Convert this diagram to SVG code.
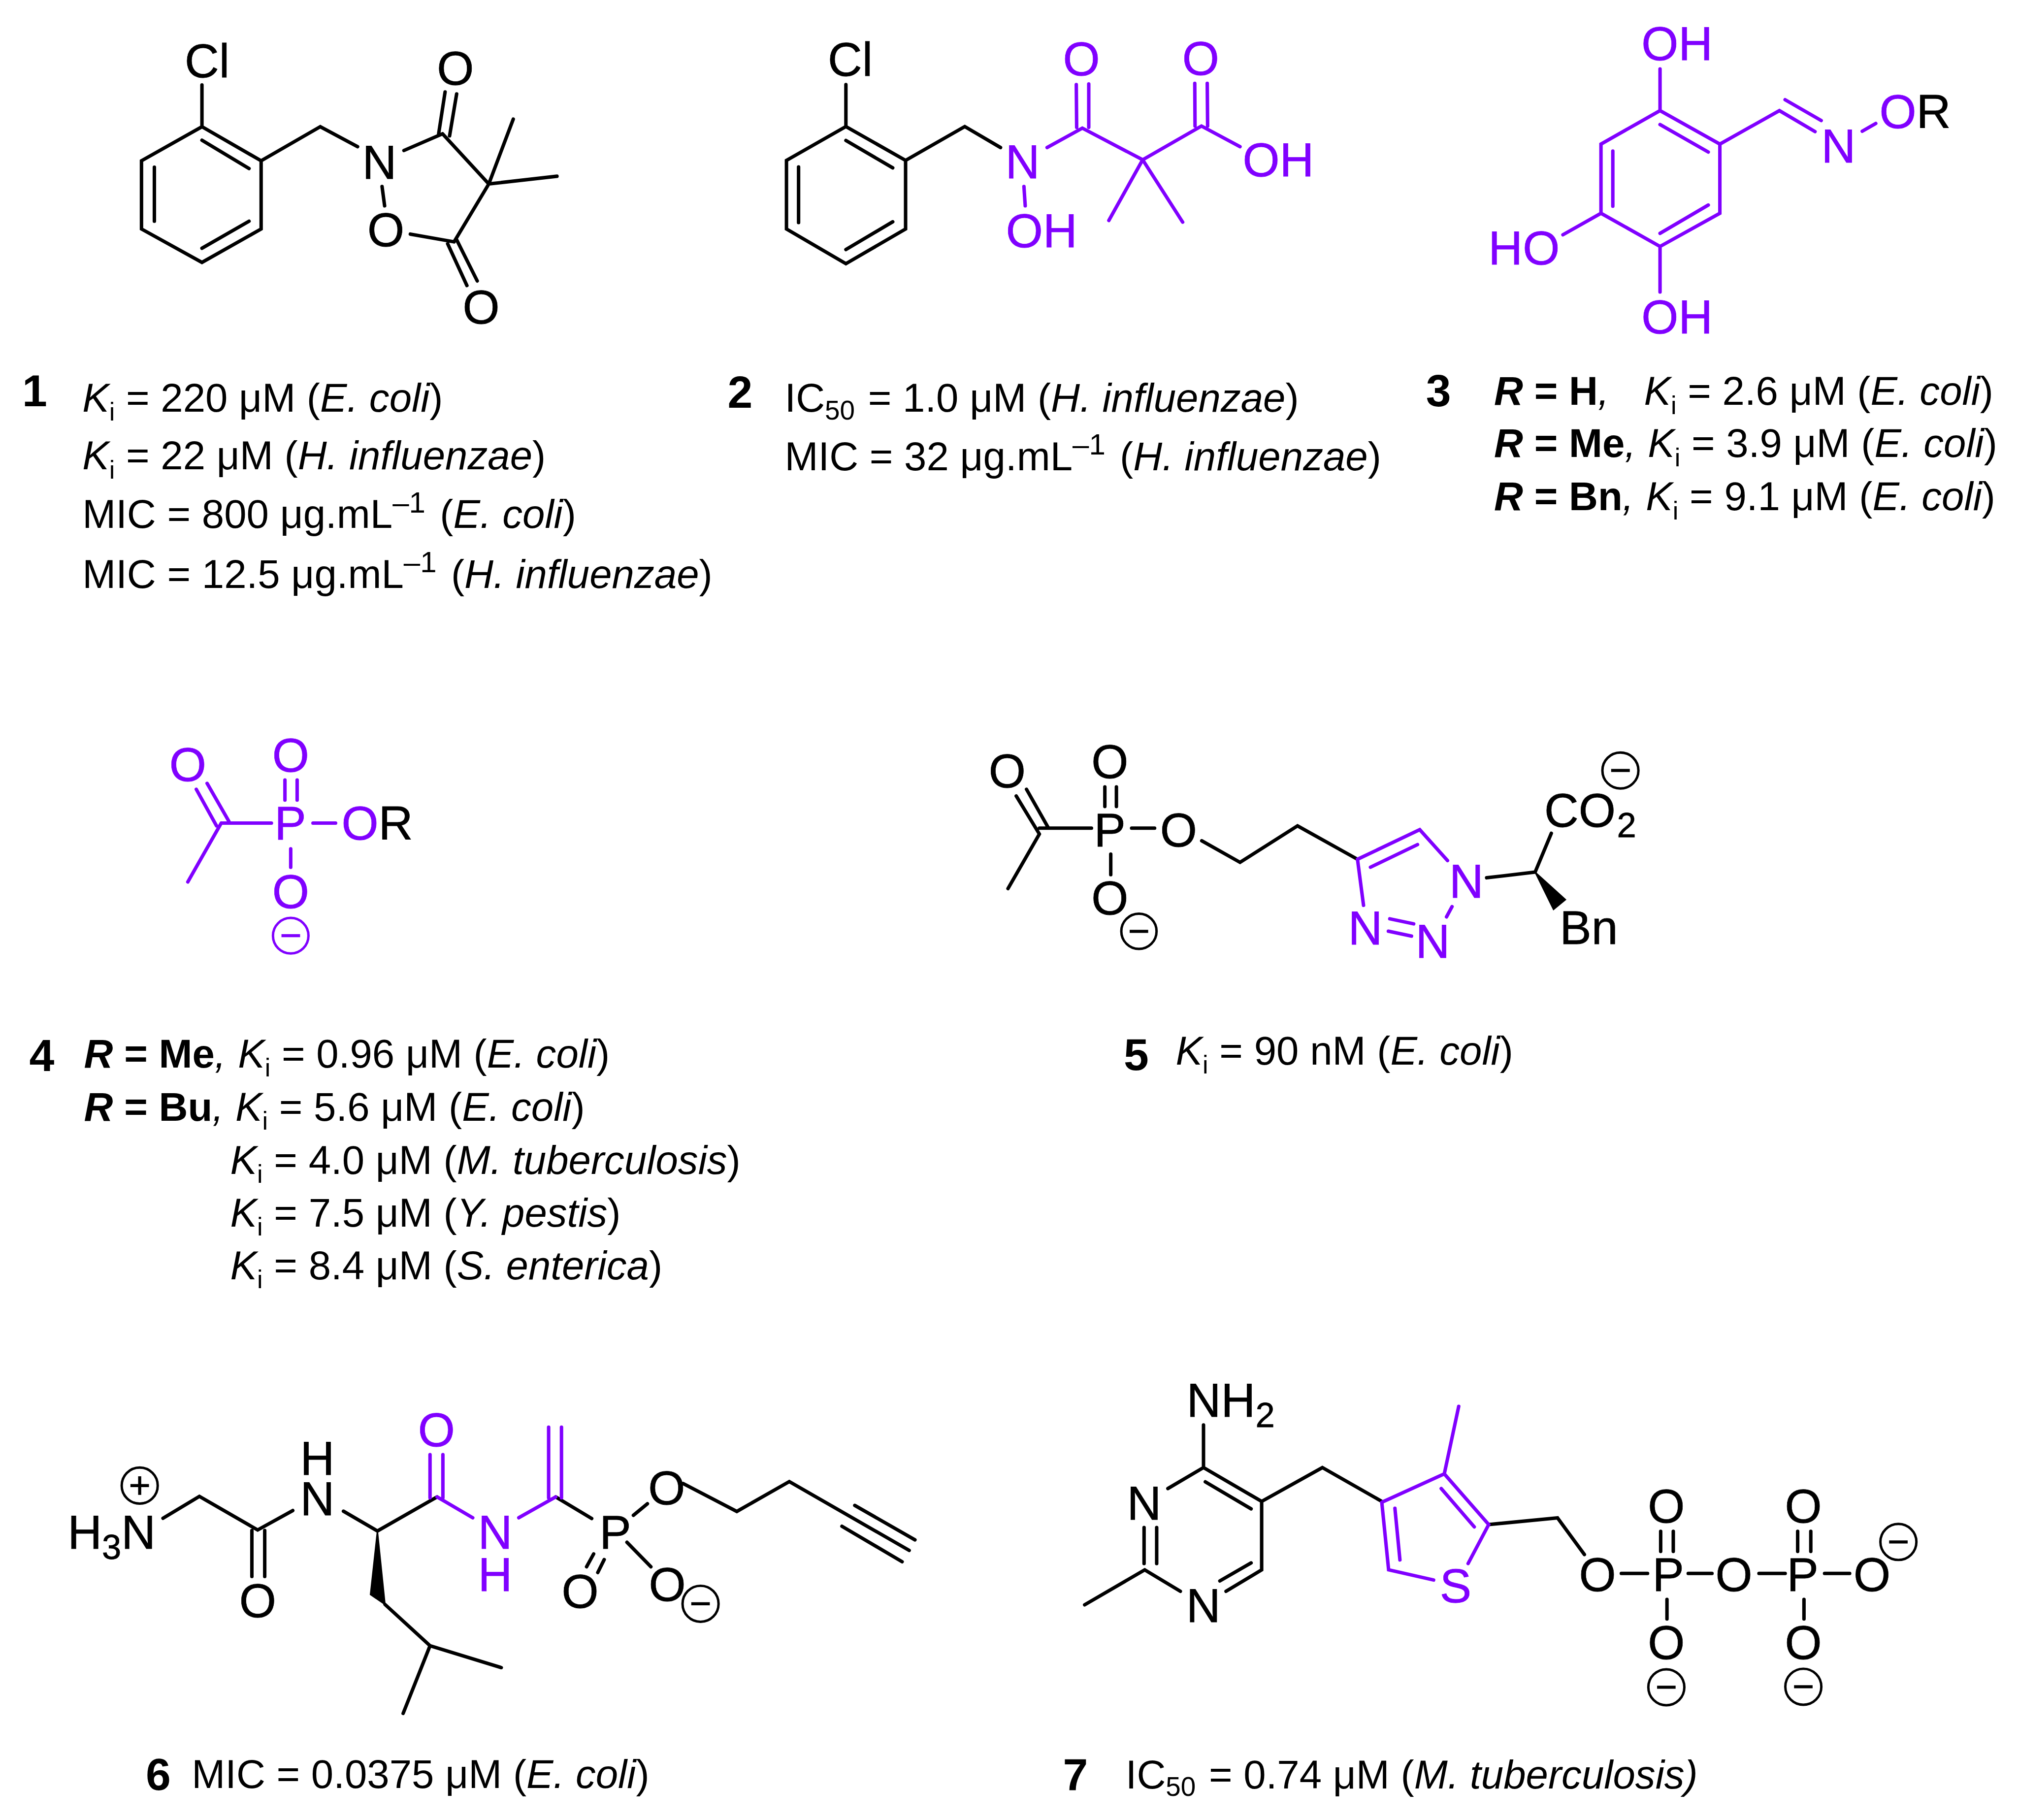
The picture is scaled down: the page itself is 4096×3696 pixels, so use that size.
<svg xmlns="http://www.w3.org/2000/svg" width="4096" height="3696" viewBox="0 0 4096 3696">
<style>
text{font-family:"Liberation Sans",Arial,sans-serif;fill:#000}
.a{font-size:37px;text-anchor:middle;stroke:#000;stroke-width:.3}
.as{font-size:37px;stroke:#000;stroke-width:.3}
.a.pt,.as.pt{fill:#8000ff;stroke:#8000ff}
.as.pt tspan.bk{fill:#000;stroke:#000}
.t{font-size:31.25px}
.n{font-size:35px;font-weight:bold;text-anchor:middle}
.i{font-style:italic}
.b{font-weight:bold}
.bi{font-weight:bold;font-style:italic}
.s{font-size:20px}
.e{font-size:23px}
.s2{font-size:21px}
.u{font-size:27px}
.kb{fill:none;stroke:#000;stroke-width:2.7;stroke-linecap:round;stroke-linejoin:miter}
.pb{fill:none;stroke:#8000ff;stroke-width:2.7;stroke-linecap:round;stroke-linejoin:miter}
.c{fill:none;stroke:#000;stroke-width:1.9}
.cp{fill:none;stroke:#8000ff;stroke-width:1.9}
.m{fill:none;stroke:#000;stroke-width:2.4}
.mp{fill:none;stroke:#8000ff;stroke-width:2.4}
</style>
<rect width="4096" height="3696" fill="#fff"/>
<g transform="scale(2.61224)">
<g id="connectors">
<path id="bonds-1" class="kb" d="M157 66V98.5L203 125V178L157 204L110 178V125L157 98.5M157 109L193.6 131M120 130V172M157 193L193.6 172M203 125L249 98.5L278 114M314 117L344 104M341 104L346 71.5M349.5 105.6L355 73M344 104L380 143M380 143L399 92.6M380 143L433 137M380 143L353 188M348 189.5L363 222M355 186.4L371 218.4M353 188L319 182M297 145L299 160"/>
<path id="bonds-2k" class="kb" d="M657.6 65.8V98.4L704 124.7V178L657.6 205L611.4 178V124.7L657.6 98.4M657.6 109.2L694 130.5M620.8 129.8V173M657.6 194L694 172.4M704 124.7L750 98.4L777.8 114.7"/>
<path id="bonds-2p" class="pb" d="M814 114.7L841.4 99.6L888.3 124.2L934 98L964 114M837 99L836.7 65.8M846.4 99V65.3M929 98L928.8 64.8M938.8 98L938.5 64.8M888.3 124.2L862 171.4M888.3 124.2L919.4 172.7M796 145L797 160"/>
<path id="bonds-3" class="pb" d="M1290.5 53.6V86L1337 112V165.8L1290.5 191.6L1244.6 165.8V112L1290.5 86M1290.5 96.8L1328 118.2M1253.8 117.4V160.3M1290.5 181.4L1328 159.4M1290.5 191.6V227M1244.6 165.8L1215 182.5M1337 112L1383.3 86L1411 102.3M1387.7 77.5L1415.8 93.7M1447.7 102L1458.2 96"/>
<path id="bonds-4" class="pb" d="M172 639.9H211M172 639.9L146 685.6M168.3 642L152.6 613.6M177.9 638.4L161 609M221.5 622V606.4M231 622V606.4M243.3 639.9H260.9M226 659.9V674.2"/>
<path id="bonds-5k" class="kb" d="M808 643.8H848.5M808 648.4L783.6 690.8M790 618.8L808 648.4M798 613.6L815 643.6M858.9 627V611.7M867.9 627V611.7M879.7 643.8H897.6M863.5 664V680M934.2 653.6L964 670.4L1008.7 642L1055.3 668M1155.7 682.4L1193.4 678L1206 647.8"/>
<path id="wedge-5" d="M1193.4 678L1217 699.4L1207.7 707Z" fill="#000" stroke="#000" stroke-width="1"/>
<path id="bonds-5p" class="pb" d="M1055.3 668L1103.7 645L1125.3 669M1065.4 674.2L1102 656.6M1055.3 668L1060 703.8M1080.4 714.3L1099 718.2M1079.3 723.9L1097.3 727.7M1128.8 704.8L1124.5 712.8"/>
<path id="bonds-6k" class="kb" d="M126.7 1180.3L155 1163.3L200.3 1189.4L227.6 1174.3M195.8 1189.8V1225.6M205.8 1189.8V1225.6M267 1174.8L293.4 1190.2L339.8 1163.7M299.3 1247.3L334.3 1279.4L389.7 1296.4M334.3 1279.4L313.4 1332M432 1163.7L460 1180.5M461.5 1208L456 1218M469.7 1212.4L464.7 1222.5M487.4 1199L506 1218M492.4 1178L503.3 1169M531 1153.3L572.8 1175L613.6 1151.8L706.8 1205.3M664.5 1170.3L711.3 1197.1M654.5 1186.5L701.3 1214.1"/>
<path id="wedge-6" d="M293.4 1190.2L288 1239.6L299.3 1247.3Z" fill="#000" stroke="#000" stroke-width="1"/>
<path id="bonds-6p" class="pb" d="M334.3 1164.4V1130.8M344.3 1164.4V1130.8M339.8 1163.7L367.5 1179.9M403.3 1179.9L432 1163.7M426.5 1164.4V1109.5M436.5 1164.4V1109.5"/>
<path id="bonds-7k" class="kb" d="M935.6 1107.8V1140.9L980.8 1167.2V1220.4L953.1 1237.1M917.6 1237.1L889.9 1220.4M889.4 1215.5V1187.5M899.2 1215.5V1187.5M907.9 1157.2L935.6 1140.9M937 1152L972.6 1173M948.3 1229L972.6 1215M889.9 1220.4L843.2 1247.6M980.8 1167.2L1028 1140.9L1074.2 1167.2M1157.3 1185.2L1210.8 1180L1231.7 1208.5M1260.4 1223.2H1280.8M1312.4 1223.2H1330.9M1367.4 1223.2H1387.8M1418.4 1223.2H1437.9M1291 1206.1V1190.5M1300.8 1206.1V1190.5M1397.5 1206.1V1190.5M1407.7 1206.1V1190.5M1295.9 1243.4V1258.6M1402.4 1243.4V1258.6"/>
<path id="bonds-7p" class="pb" d="M1074.2 1167.9L1122.8 1145.8L1157.3 1185.2L1141.3 1215.5M1114.5 1228.3L1079.5 1220.4L1074.2 1167.9M1120.4 1157.2L1146.1 1187M1084.4 1172.6L1088.3 1212.7M1122.8 1145.8L1134 1093.3"/>
</g>
<g id="compound-1">
<text class="a" x="161" y="60">Cl</text><text class="a" x="295" y="139">N</text><text class="a" x="354" y="66">O</text><text class="a" x="374" y="251.5">O</text><text class="a" x="300" y="191.5">O</text>
<text class="n" x="27" y="316">1</text>
<text class="t" x="64" y="320"><tspan class="i">K</tspan><tspan class="s" dy="7">i</tspan><tspan dy="-7"> = 220 μM (</tspan><tspan class="i">E. coli</tspan>)</text>
<text class="t" x="64" y="365"><tspan class="i">K</tspan><tspan class="s" dy="7">i</tspan><tspan dy="-7"> = 22 μM (</tspan><tspan class="i">H. influenzae</tspan>)</text>
<text class="t" x="64" y="410.5">MIC = 800 μg.mL<tspan class="e" dy="-12">–1</tspan><tspan dy="12" dx="2.5"> (</tspan><tspan class="i">E. coli</tspan>)</text>
<text class="t" x="64" y="457">MIC = 12.5 μg.mL<tspan class="e" dy="-12">–1</tspan><tspan dy="12" dx="2.5"> (</tspan><tspan class="i">H. influenzae</tspan>)</text>
</g>
<g id="compound-2">
<text class="a" x="661" y="59">Cl</text><text class="a pt" x="795" y="138.5">N</text><text class="a pt" x="840.7" y="58.5">O</text><text class="a pt" x="933.4" y="58">O</text>
<text class="as pt" x="966" y="137">OH</text><text class="as pt" x="782" y="192">OH</text>
<text class="n" x="575.3" y="317">2</text>
<text class="t" x="610" y="320">IC<tspan class="s2" dy="6">50</tspan><tspan dy="-6" dx="1.5"> = 1.0 μM (</tspan><tspan class="i">H. influenzae</tspan>)</text>
<text class="t" x="610" y="365.5">MIC = 32 μg.mL<tspan class="e" dy="-12">–1</tspan><tspan dy="12" dx="2.5"> (</tspan><tspan class="i">H. influenzae</tspan>)</text>
</g>
<g id="compound-3">
<text class="as pt" x="1276" y="46.7">OH</text><text class="as pt" x="1276" y="259">OH</text><text class="as pt" x="1157" y="205.6">HO</text>
<text class="a pt" x="1429.2" y="126.5">N</text><text class="as pt" x="1461" y="99.5">O<tspan class="bk">R</tspan></text>
<text class="n" x="1118.3" y="316">3</text>
<text class="t" x="1161.5" y="314.8"><tspan class="bi">R</tspan><tspan class="b"> = H</tspan><tspan class="i">,</tspan><tspan class="i" x="1278">K</tspan><tspan class="s" dy="7">i</tspan><tspan dy="-7"> = 2.6 μM (</tspan><tspan class="i">E. coli</tspan>)</text>
<text class="t" x="1161.5" y="355.4"><tspan class="bi">R</tspan><tspan class="b"> = Me</tspan><tspan class="i">,</tspan><tspan class="i" x="1281">K</tspan><tspan class="s" dy="7">i</tspan><tspan dy="-7"> = 3.9 μM (</tspan><tspan class="i">E. coli</tspan>)</text>
<text class="t" x="1161.5" y="396.7"><tspan class="bi">R</tspan><tspan class="b"> = Bn</tspan><tspan class="i">,</tspan><tspan class="i" x="1279.5">K</tspan><tspan class="s" dy="7">i</tspan><tspan dy="-7"> = 9.1 μM (</tspan><tspan class="i">E. coli</tspan>)</text>
</g>
<g id="compound-4">
<text class="a pt" x="146" y="607.3">O</text><text class="a pt" x="226" y="600">O</text><text class="a pt" x="225.7" y="652.8">P</text><text class="as pt" x="265.5" y="652.8">O<tspan class="bk">R</tspan></text><text class="a pt" x="226" y="706">O</text>
<circle class="cp" cx="226" cy="727.4" r="13.8"/><path class="mp" d="M218.8 727.4H233.3"/>
<text class="n" x="32.5" y="832.5">4</text>
<text class="t" x="65.3" y="830"><tspan class="bi">R</tspan><tspan class="b"> = Me</tspan><tspan class="i">,</tspan><tspan class="i" x="185">K</tspan><tspan class="s" dy="7">i</tspan><tspan dy="-7"> = 0.96 μM (</tspan><tspan class="i">E. coli</tspan>)</text>
<text class="t" x="65.3" y="871.3"><tspan class="bi">R</tspan><tspan class="b"> = Bu</tspan><tspan class="i">,</tspan><tspan class="i" x="183">K</tspan><tspan class="s" dy="7">i</tspan><tspan dy="-7"> = 5.6 μM (</tspan><tspan class="i">E. coli</tspan>)</text>
<text class="t" x="179" y="912.5"><tspan class="i">K</tspan><tspan class="s" dy="7">i</tspan><tspan dy="-7"> = 4.0 μM (</tspan><tspan class="i">M. tuberculosis</tspan>)</text>
<text class="t" x="179" y="953.5"><tspan class="i">K</tspan><tspan class="s" dy="7">i</tspan><tspan dy="-7"> = 7.5 μM (</tspan><tspan class="i">Y. pestis</tspan>)</text>
<text class="t" x="179" y="994.5"><tspan class="i">K</tspan><tspan class="s" dy="7">i</tspan><tspan dy="-7"> = 8.4 μM (</tspan><tspan class="i">S. enterica</tspan>)</text>
</g>
<g id="compound-5">
<text class="a" x="783" y="612">O</text><text class="a" x="862.8" y="605">O</text><text class="a" x="862.8" y="658">P</text><text class="a" x="916.2" y="658">O</text><text class="a" x="862.8" y="711">O</text>
<circle class="c" cx="885.4" cy="724" r="13.7"/><path class="m" d="M878.2 724H892.6"/>
<text class="a pt" x="1140" y="697.7">N</text><text class="a pt" x="1061.4" y="734.4">N</text><text class="a pt" x="1113.8" y="744.6">N</text>
<text class="as" x="1200.5" y="642.7">CO<tspan class="u" dy="8" dx="1">2</tspan></text>
<circle class="c" cx="1259.7" cy="599" r="14"/><path class="m" d="M1252.5 599H1267"/>
<text class="as" x="1212.5" y="733.9">Bn</text>
<text class="n" x="883.3" y="832">5</text>
<text class="t" x="914" y="827.5"><tspan class="i">K</tspan><tspan class="s" dy="7">i</tspan><tspan dy="-7"> = 90 nM (</tspan><tspan class="i">E. coli</tspan>)</text>
</g>
<g id="compound-6">
<text class="as" x="52.5" y="1203.9">H<tspan class="u" dy="8">3</tspan><tspan dy="-8">N</tspan></text>
<circle class="c" cx="108.6" cy="1154.9" r="14"/><path class="m" d="M101.4 1154.9H115.8M108.6 1147.7V1162.1"/>
<text class="a" x="200.3" y="1257">O</text><text class="a" x="246.7" y="1146.4">H<tspan x="246.7" y="1177.8">N</tspan></text>
<text class="a pt" x="339.3" y="1124.3">O</text><text class="a pt" x="385" y="1203.9">N<tspan x="385" y="1237">H</tspan></text>
<text class="a" x="478.3" y="1204">P</text><text class="a" x="451" y="1250">O</text><text class="a" x="518.7" y="1244.4">O</text><text class="a" x="518.3" y="1169.6">O</text>
<circle class="c" cx="544.6" cy="1246.8" r="14"/><path class="m" d="M537.4 1246.8H551.8"/>
<text class="n" x="123" y="1391.4">6</text>
<text class="t" x="149" y="1390">MIC = 0.0375 μM (<tspan class="i">E. coli</tspan>)</text>
</g>
<g id="compound-7">
<text class="as" x="922.5" y="1101.5">NH<tspan class="u" dy="8">2</tspan></text>
<text class="a" x="889.4" y="1181.4">N</text><text class="a" x="935.6" y="1261.1">N</text><text class="a pt" x="1131.6" y="1245.5">S</text>
<text class="a" x="1241.9" y="1236.9">O</text><text class="a" x="1296.9" y="1236.9">P</text><text class="a" x="1347.9" y="1236.9">O</text><text class="a" x="1401.4" y="1236.9">P</text><text class="a" x="1455.3" y="1236.9">O</text>
<text class="a" x="1295.4" y="1183.7">O</text><text class="a" x="1401.9" y="1183.7">O</text><text class="a" x="1295.4" y="1289.8">O</text><text class="a" x="1401.9" y="1289.8">O</text>
<circle class="c" cx="1475.8" cy="1198.7" r="14"/><path class="m" d="M1468.6 1198.7H1483"/>
<circle class="c" cx="1295.4" cy="1311.7" r="14"/><path class="m" d="M1288.2 1311.7H1302.6"/>
<circle class="c" cx="1401.9" cy="1311.3" r="14"/><path class="m" d="M1394.7 1311.3H1409.1"/>
<text class="n" x="836" y="1391.7">7</text>
<text class="t" x="875" y="1390.3">IC<tspan class="s2" dy="6">50</tspan><tspan dy="-6" dx="1.5"> = 0.74 μM (</tspan><tspan class="i">M. tuberculosis)</tspan></text>
</g>
</g>
</svg>
